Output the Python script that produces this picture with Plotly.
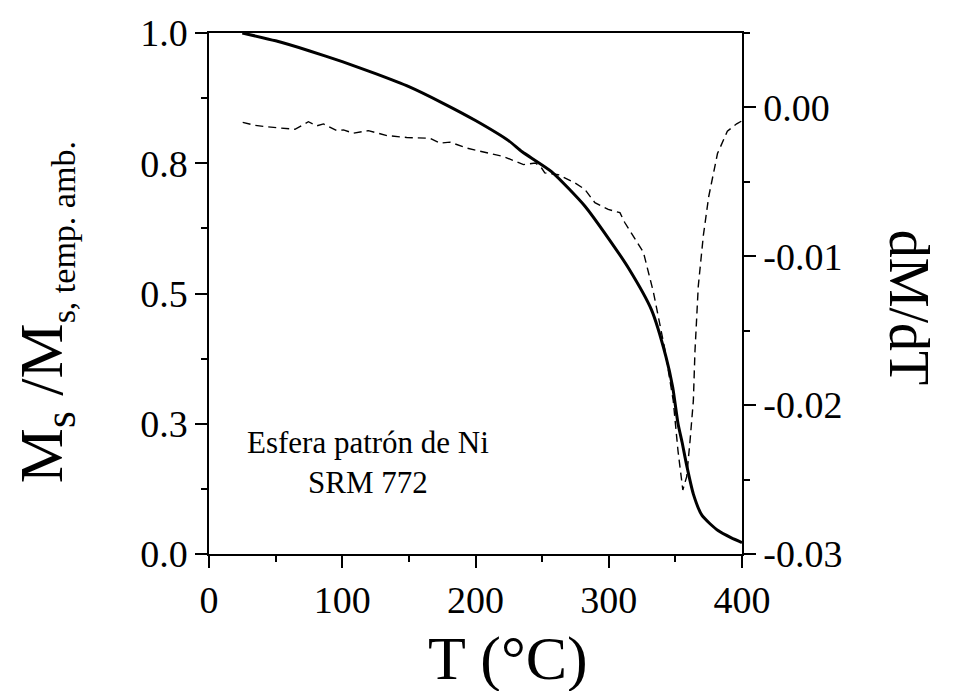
import plotly.graph_objects as go

# --- data ---
temp_m = [25, 50, 75, 100, 125, 150, 175, 200, 225, 235, 257, 282, 300, 315,
          332, 343, 348, 352, 355, 358.5, 363.5, 370, 382, 392, 400]
ms_ratio = [1.0, 0.985, 0.966, 0.945, 0.922, 0.897, 0.866, 0.832, 0.793, 0.772,
            0.734, 0.668, 0.605, 0.548, 0.469, 0.378, 0.32, 0.25, 0.215, 0.17,
            0.115, 0.074, 0.045, 0.031, 0.022]

temp_d = [25.3, 34.5, 43.3, 53.5, 64.5, 74.6, 80.9, 85.9, 95.9, 100.9, 108.4,
          119.6, 133.5, 148.4, 165.9, 173.4, 180.9, 193.3, 206, 221, 236, 245,
          249.6, 252, 262, 274.6, 282, 289.6, 299.6, 308.4, 312, 326, 333.5,
          342, 348.4, 352, 355.6, 358.5, 361, 363.5, 364.7, 367.2, 371, 375,
          381.6, 389, 396, 400]
dmdt = [-0.0010, -0.0012, -0.0013, -0.0014, -0.00147, -0.00096, -0.00124,
        -0.00111, -0.00156, -0.00151, -0.00173, -0.00156, -0.00189, -0.00202,
        -0.00207, -0.0024, -0.00233, -0.00273, -0.0030, -0.0033, -0.00384,
        -0.00373, -0.00407, -0.0044, -0.00451, -0.00507, -0.0055, -0.0064,
        -0.00685, -0.00707, -0.00773, -0.00973, -0.0124, -0.0162, -0.0197,
        -0.0231, -0.0257, -0.0248, -0.0224, -0.0197, -0.0164, -0.012, -0.0086,
        -0.006, -0.0031, -0.0016, -0.0011, -0.0009]

x_ticks = [0, 100, 200, 300, 400]
y_ticks = [0.0, 0.25, 0.5, 0.75, 1.0]
y_tick_text = ["0.0", "0.3", "0.5", "0.8", "1.0"]
y2_ticks = [0.0, -0.01, -0.02, -0.03]
y2_tick_text = ["0.00", "-0.01", "-0.02", "-0.03"]

FONT = "Liberation Serif, Times New Roman, serif"

fig = go.Figure()
fig.add_trace(go.Scatter(x=temp_m, y=ms_ratio, mode="lines",
                         line=dict(color="black", width=3, shape="spline",
                                   smoothing=0.6),
                         showlegend=False, hoverinfo="skip"))
fig.add_trace(go.Scatter(x=temp_d, y=dmdt, mode="lines", yaxis="y2",
                         line=dict(color="black", width=1.4, dash="8px,5px"),
                         showlegend=False, hoverinfo="skip"))

axis_common = dict(showgrid=False, zeroline=False, showline=True,
                   linecolor="black", linewidth=1.5, ticks="outside",
                   tickcolor="black", tickwidth=1.5, ticklen=12,
                   tickfont=dict(family=FONT, size=38, color="black"))

fig.update_layout(
    width=953, height=691,
    margin=dict(l=209, r=211, t=28, b=137),
    paper_bgcolor="white", plot_bgcolor="white",
    xaxis=dict(range=[0, 400], tickvals=x_ticks, mirror=True,
               minor=dict(dtick=50, tick0=0, ticklen=6, ticks="outside",
                          tickcolor="black", tickwidth=1.5),
               **axis_common),
    yaxis=dict(range=[0, 1], tickvals=y_ticks, ticktext=y_tick_text,
               minor=dict(dtick=0.125, tick0=0, ticklen=6, ticks="outside",
                          tickcolor="black", tickwidth=1.5),
               **axis_common),
    yaxis2=dict(range=[-0.03, 0.005], overlaying="y", side="right",
                tickvals=y2_ticks, ticktext=y2_tick_text,
                minor=dict(dtick=0.005, tick0=0, ticklen=6, ticks="outside",
                           tickcolor="black", tickwidth=1.5),
                **axis_common),
)

fig.add_annotation(xref="paper", yref="paper", x=0.561, y=-0.2015,
                   xanchor="center", yanchor="middle",
                   text="T (°C)", showarrow=False,
                   font=dict(family=FONT, size=62, color="black"))
fig.add_annotation(xref="paper", yref="paper", x=-0.3077, y=0.464,
                   xanchor="center", yanchor="middle",
                   text="M<sub>s</sub> /M<sub><span style='font-size:34px'>s, temp. amb.</span></sub>",
                   textangle=-90, showarrow=False,
                   font=dict(family=FONT, size=62, color="black"))
fig.add_annotation(xref="paper", yref="paper", x=1.315, y=0.473,
                   xanchor="center", yanchor="middle",
                   text="dM/dT", textangle=90, showarrow=False,
                   font=dict(family=FONT, size=56, color="black"))
fig.add_annotation(xref="x", yref="y", x=119, y=0.175,
                   xanchor="center", yanchor="middle",
                   text="Esfera patrón de Ni<br>SRM 772", showarrow=False,
                   font=dict(family=FONT, size=31, color="black"))

fig.write_html("out.html")
